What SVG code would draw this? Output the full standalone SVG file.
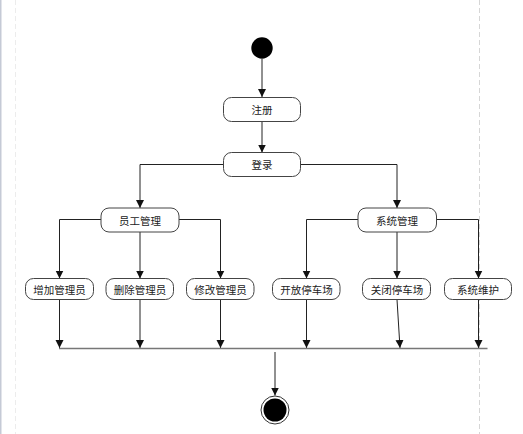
<svg xmlns="http://www.w3.org/2000/svg" width="523" height="434" viewBox="0 0 523 434">
<style>
.node rect{fill:#fff;stroke:#444;stroke-width:1}
.node text{font-family:"Noto Sans CJK SC","Liberation Sans",sans-serif;font-size:10.5px;fill:#222;text-anchor:middle;dominant-baseline:central}
.edge{fill:none;stroke:#222;stroke-width:1;marker-end:url(#arr)}
</style>
<defs>
<marker id="arr" viewBox="0 0 8 10" refX="8" refY="5" markerWidth="8" markerHeight="10" markerUnits="userSpaceOnUse" orient="auto">
<path d="M0,1 L8,5 L0,9 Z" fill="#111"/>
</marker>
</defs>
<rect x="0" y="0" width="523" height="434" fill="#fff"/>
<rect x="0" y="0" width="1.5" height="434" fill="#c5cad6"/>
<line x1="15.5" y1="0" x2="15.5" y2="434" stroke="#ececec" stroke-width="1" stroke-dasharray="5,3"/>
<line x1="479.5" y1="0" x2="479.5" y2="434" stroke="#d6d6d6" stroke-width="1" stroke-dasharray="5,3"/>

<g id="connectors">
<path class="edge" d="M262,59 V97"/>
<path class="edge" d="M262,121.5 V152.5"/>
<path class="edge" d="M223.5,164.5 H140 V208"/>
<path class="edge" d="M300.5,164.5 H397 V208"/>
<path class="edge" d="M101,219.5 H59.5 V278.5"/>
<path class="edge" d="M140,232 V278.5"/>
<path class="edge" d="M179,219.5 H220.5 V278.5"/>
<path class="edge" d="M358,219.5 H306.5 V278.5"/>
<path class="edge" d="M397,232 V278.5"/>
<path class="edge" d="M436.5,219.5 H478.5 V278.5"/>
<path class="edge" d="M59.5,299.5 V348"/>
<path class="edge" d="M140,299.5 V348"/>
<path class="edge" d="M220.5,299.5 V348"/>
<path class="edge" d="M306.5,299.5 V348"/>
<path class="edge" d="M397,299.5 L400,348"/>
<path class="edge" d="M478.5,299.5 V348"/>
<line x1="59" y1="348.5" x2="487.5" y2="348.5" stroke="#777" stroke-width="1.5"/>
<path class="edge" d="M275,352 V395.5"/>
</g>

<g id="start"><circle cx="262" cy="48" r="10.7" fill="#000"/></g>

<g id="zhuce" class="node"><rect x="223.5" y="97.5" width="77" height="24" rx="8"/><text x="262" y="109.5">注册</text></g>
<g id="denglu" class="node"><rect x="223.5" y="152.5" width="77" height="24" rx="8"/><text x="262" y="164.5">登录</text></g>
<g id="yggl" class="node"><rect x="101" y="208" width="78" height="24" rx="8"/><text x="140" y="220">员工管理</text></g>
<g id="xtgl" class="node"><rect x="358" y="208" width="78.5" height="24" rx="8"/><text x="397" y="220">系统管理</text></g>
<g id="zjgly" class="node"><rect x="25.5" y="278.5" width="68" height="21" rx="8"/><text x="59.5" y="289">增加管理员</text></g>
<g id="scgly" class="node"><rect x="106" y="278.5" width="67.5" height="21" rx="8"/><text x="140" y="289">删除管理员</text></g>
<g id="xggly" class="node"><rect x="186.5" y="278.5" width="67.5" height="21" rx="8"/><text x="220.5" y="289">修改管理员</text></g>
<g id="kftcc" class="node"><rect x="272.5" y="278.5" width="67.5" height="21" rx="8"/><text x="306.5" y="289">开放停车场</text></g>
<g id="gbtcc" class="node"><rect x="362.5" y="278.5" width="68" height="21" rx="8"/><text x="397" y="289">关闭停车场</text></g>
<g id="xtwh" class="node"><rect x="444.5" y="278.5" width="67" height="21" rx="8"/><text x="478" y="289">系统维护</text></g>

<g id="end"><circle cx="275" cy="410" r="14" fill="#fff" stroke="#333" stroke-width="1"/><circle cx="275" cy="410" r="11.5" fill="#000"/></g>
</svg>
